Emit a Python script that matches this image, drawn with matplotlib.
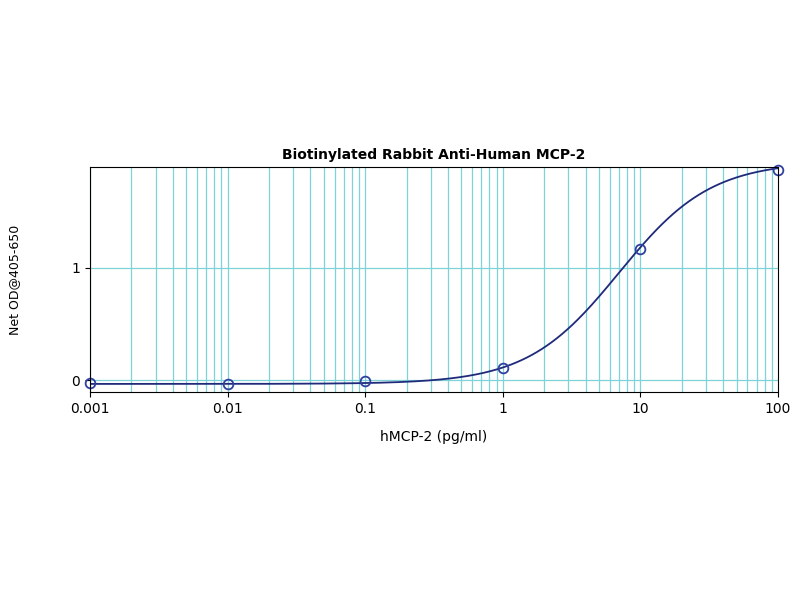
import matplotlib.pyplot as plt
import numpy as np

conc = [0.001, 0.01, 0.1, 1, 10, 100]
od = [-0.03, -0.035, -0.01, 0.11, 1.17, 1.87]

# 4PL fit parameters
bottom, top, ec50, hill = -0.035, 1.95, 7.0, 1.3

xx = np.logspace(-3, 2, 400)
yy = bottom + (top - bottom) * (xx / ec50) ** hill / (1 + (xx / ec50) ** hill)

fig = plt.figure(figsize=(8, 6), dpi=100)
ax = fig.add_axes([90 / 800, 1 - 392 / 600, 688 / 800, 225 / 600])
ax.set_xscale("log")
ax.set_xlim(0.001, 100)
ax.set_ylim(-0.107, 1.90)

grid_c = "#7fd3d8"
for dec in range(-3, 2):
    for m in range(1, 10):
        ax.axvline(m * 10.0 ** dec, color=grid_c, lw=0.9, zorder=0)
for yv in [0, 1]:
    ax.axhline(yv, color=grid_c, lw=0.9, zorder=0)

ax.plot(xx, yy, color="#1f2a7a", lw=1.3)
ax.plot(conc, od, "o", mfc="none", mec="#3040a0", ms=7, mew=1.3, clip_on=False)

ax.set_xticks(conc)
ax.set_xticklabels(["0.001", "0.01", "0.1", "1", "10", "100"])
ax.xaxis.set_minor_locator(plt.NullLocator())
ax.set_yticks([0, 1])
ax.tick_params(labelsize=10)
ax.set_title("Biotinylated Rabbit Anti-Human MCP-2", fontsize=10, fontweight="bold", pad=6)
ax.set_xlabel("hMCP-2 (pg/ml)", fontsize=10, labelpad=10)
ax.set_ylabel("Net OD@405-650", fontsize=9, labelpad=36)

fig.savefig("out.png")
